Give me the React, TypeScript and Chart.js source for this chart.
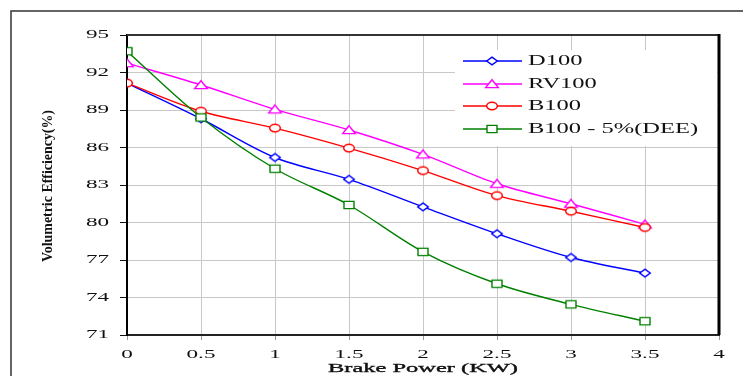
import React, { useEffect, useRef } from 'react';
import { Chart, registerables } from 'chart.js';

Chart.register(...registerables);

// ---- data ----
const brakePower = [0, 0.5, 1, 1.5, 2, 2.5, 3, 3.5];
const d100 = [91.15, 88.3, 85.2, 83.45, 81.25, 79.1, 77.2, 75.95];
const rv100 = [92.75, 91.0, 89.05, 87.4, 85.45, 83.1, 81.5, 79.85];
const b100 = [91.15, 88.9, 87.55, 85.95, 84.15, 82.15, 80.9, 79.6];
const b100Dee = [93.7, 88.4, 84.3, 81.4, 77.65, 75.1, 73.45, 72.1];
const seriesNames = ['D100', 'RV100', 'B100', 'B100 - 5%(DEE)'];
const xTickLabels = ['0', '0.5', '1', '1.5', '2', '2.5', '3', '3.5', '4'];
const yTickLabels = ['71', '74', '77', '80', '83', '86', '89', '92', '95'];
const xTitle = 'Brake Power (KW)';
const yTitle = 'Volumetric Efficiency(%)';

const seriesValues = [d100, rv100, b100, b100Dee];
const colors = ['#0000ff', '#ff00ff', '#ff0000', '#008000'];
const kinds = ['diamond', 'triangle', 'circle', 'square'];

function makeMarker(kind: string, color: string): HTMLCanvasElement {
  const c = document.createElement('canvas');
  const w = 16, h = 12;
  c.width = w; c.height = h;
  const g = c.getContext('2d')!;
  g.strokeStyle = color;
  g.fillStyle = '#ffffff';
  g.lineWidth = 1.4;
  const cx = w / 2, cy = h / 2;
  g.beginPath();
  if (kind === 'diamond') {
    g.moveTo(cx, cy - 3.9);
    g.lineTo(cx + 5.3, cy);
    g.lineTo(cx, cy + 3.9);
    g.lineTo(cx - 5.3, cy);
    g.closePath();
  } else if (kind === 'triangle') {
    g.moveTo(cx, cy - 4.3);
    g.lineTo(cx + 6.3, cy + 3.6);
    g.lineTo(cx - 6.3, cy + 3.6);
    g.closePath();
  } else if (kind === 'circle') {
    g.ellipse(cx, cy, 5.3, 3.7, 0, 0, Math.PI * 2);
  } else {
    g.rect(cx - 5, cy - 3.6, 10, 7.2);
  }
  g.fill();
  g.stroke();
  return c;
}

const FONT = '"Liberation Serif", "Times New Roman", serif';

function drawText(ctx: CanvasRenderingContext2D, text: string, x: number, y: number, font: string, sx: number, align: CanvasTextAlign, strokeW = 0) {
  ctx.save();
  ctx.font = font;
  ctx.translate(x, y);
  ctx.scale(sx, 1);
  ctx.textAlign = align;
  ctx.textBaseline = 'middle';
  ctx.fillStyle = '#111';
  ctx.fillText(text, 0, 0);
  if (strokeW > 0) {
    ctx.strokeStyle = '#111';
    ctx.lineWidth = strokeW;
    ctx.strokeText(text, 0, 0);
  }
  ctx.restore();
}

export default function App() {
  const ref = useRef<HTMLCanvasElement>(null);

  useEffect(() => {
    document.body.style.margin = '0';
    const markers = kinds.map((k, i) => makeMarker(k, colors[i]));

    const overlay = {
      id: 'overlay',
      afterDraw(chart: any) {
        const ctx: CanvasRenderingContext2D = chart.ctx;
        const xs = chart.scales.x;
        const ys = chart.scales.y;
        const area = chart.chartArea;

        // legend
        ctx.save();
        ctx.fillStyle = '#ffffff';
        ctx.fillRect(455, 50, area.right - 2 - 455, 96);
        const rowY = [61, 84, 106, 129];
        seriesNames.forEach((name, i) => {
          ctx.strokeStyle = colors[i];
          ctx.lineWidth = 1.4;
          ctx.beginPath();
          ctx.moveTo(463, rowY[i]);
          ctx.lineTo(522, rowY[i]);
          ctx.stroke();
          const m = markers[i];
          ctx.drawImage(m, 492 - m.width / 2, rowY[i] - m.height / 2);
          drawText(ctx, name, 528, rowY[i], `14px ${FONT}`, 1.75, 'left');
        });
        ctx.restore();

        // plot borders top / right
        ctx.save();
        ctx.strokeStyle = '#333';
        ctx.lineWidth = 2;
        ctx.beginPath();
        ctx.moveTo(area.left, area.top);
        ctx.lineTo(area.right, area.top);
        ctx.stroke();
        ctx.strokeStyle = '#000';
        ctx.lineWidth = 3;
        ctx.beginPath();
        ctx.moveTo(area.right, area.top - 1);
        ctx.lineTo(area.right, area.bottom);
        ctx.stroke();
        ctx.restore();

        // tick labels
        xTickLabels.forEach((t) => {
          drawText(ctx, t, xs.getPixelForValue(parseFloat(t)), 355, `12.5px ${FONT}`, 1.85, 'center');
        });
        yTickLabels.forEach((t) => {
          drawText(ctx, t, 109, ys.getPixelForValue(parseFloat(t)), `12.5px ${FONT}`, 1.85, 'right');
        });

        // x title
        ctx.save();
        ctx.font = `13.5px ${FONT}`;
        const xw = ctx.measureText(xTitle).width;
        ctx.restore();
        drawText(ctx, xTitle, (area.left + area.right) / 2, 368, `13.5px ${FONT}`, 190 / xw, 'center', 0.35);

        // y title
        ctx.save();
        ctx.font = `bold 13px ${FONT}`;
        const yw = ctx.measureText(yTitle).width;
        ctx.translate(48, 186);
        ctx.rotate(-Math.PI / 2);
        ctx.scale(152 / yw, 1.15);
        ctx.textAlign = 'center';
        ctx.textBaseline = 'middle';
        ctx.fillStyle = '#111';
        ctx.fillText(yTitle, 0, 0);
        ctx.restore();

        // outer frame
        ctx.save();
        ctx.strokeStyle = '#333';
        ctx.lineWidth = 1.5;
        ctx.beginPath();
        ctx.moveTo(11, 376);
        ctx.lineTo(11, 11);
        ctx.lineTo(743, 11);
        ctx.stroke();
        ctx.restore();
      },
    };

    const chart = new Chart(ref.current!, {
      type: 'line',
      data: {
        datasets: seriesNames.map((name, i) => ({
          label: name,
          data: brakePower.map((x, j) => ({ x, y: seriesValues[i][j] })),
          borderColor: colors[i],
          backgroundColor: '#ffffff',
          borderWidth: 1.4,
          tension: 0.33,
          pointStyle: markers[i] as any,
          pointRadius: 5,
          order: 4 - i,
          fill: false,
        })),
      },
      options: {
        responsive: false,
        animation: false,
        devicePixelRatio: 1,
        layout: { padding: { left: 0, top: 35, right: 24, bottom: 0 } },
        plugins: {
          legend: { display: false },
          tooltip: { enabled: false },
          title: { display: false },
        },
        scales: {
          x: {
            type: 'linear',
            min: 0,
            max: 4,
            ticks: { stepSize: 0.5, display: false },
            grid: { color: '#c8c8c8', lineWidth: 1, tickLength: 5, tickColor: '#999' },
            border: { color: '#222', width: 2 },
            afterFit(s: any) { s.height = 41; },
          },
          y: {
            type: 'linear',
            min: 71,
            max: 95,
            ticks: { stepSize: 3, display: false },
            grid: { color: '#c8c8c8', lineWidth: 1, tickLength: 7, tickColor: '#111' },
            border: { color: '#000', width: 2 },
            afterFit(s: any) { s.width = 127; },
          },
        },
      },
      plugins: [overlay],
    } as any);

    return () => chart.destroy();
  }, []);

  return (
    <div style={{ position: 'absolute', left: 0, top: 0, width: 743, height: 376, background: '#fff' }}>
      <canvas ref={ref} width={743} height={376} style={{ display: 'block' }} />
    </div>
  );
}
